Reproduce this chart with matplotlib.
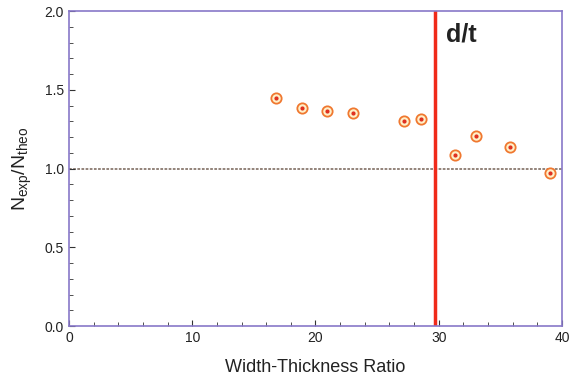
import matplotlib
matplotlib.use("Agg")
import matplotlib.pyplot as plt
from matplotlib.ticker import MultipleLocator

plt.rcParams['font.family'] = ['Liberation Sans', 'DejaVu Sans']

# measured points
ratio = [16.8, 18.9, 20.95, 23.05, 27.15, 28.55, 31.3, 33.0, 35.8, 39.05]
n_ratio = [1.447, 1.386, 1.367, 1.356, 1.301, 1.316, 1.086, 1.208, 1.135, 0.970]
dt_limit = 29.7
ref_level = 1.0

fig = plt.figure(figsize=(5.7, 3.81), dpi=100)
ax = fig.add_axes([0.121, 0.144, 0.865, 0.827])

ax.axhline(ref_level, color='#8a7a70', lw=1.3, ls=(0, (1.5, 0.8)), zorder=1)
ax.axvline(dt_limit, color='#f02a1a', lw=2.5, zorder=2)
ax.scatter(ratio, n_ratio, s=55, facecolor='#fff0c8', edgecolor='#f07830', lw=1.3, zorder=3)
ax.scatter(ratio, n_ratio, s=4, color='#e03020', zorder=4)

ax.text(30.6, 1.85, 'd/t', fontsize=18, fontweight='bold', va='center', color='#222222')

ax.set_xlim(0, 40)
ax.set_ylim(0, 2.0)
ax.xaxis.set_major_locator(MultipleLocator(10))
ax.xaxis.set_minor_locator(MultipleLocator(2))
ax.yaxis.set_major_locator(MultipleLocator(0.5))
ax.yaxis.set_minor_locator(MultipleLocator(0.1))
ax.yaxis.set_major_formatter(matplotlib.ticker.FormatStrFormatter('%.1f'))
ax.tick_params(which='both', direction='in', color='#333333', labelsize=10, labelcolor='#222222')
ax.tick_params(which='major', length=4)
ax.tick_params(which='minor', length=3)
for s in ax.spines.values():
    s.set_color('#8878c8')
    s.set_linewidth(1.2)

ax.set_xlabel('Width-Thickness Ratio', fontsize=13, labelpad=10, color='#222222')
ax.set_ylabel(r'$\mathregular{N_{exp}/N_{theo}}$', fontsize=14, labelpad=8, color='#222222')

fig.savefig('out.png', dpi=100)
